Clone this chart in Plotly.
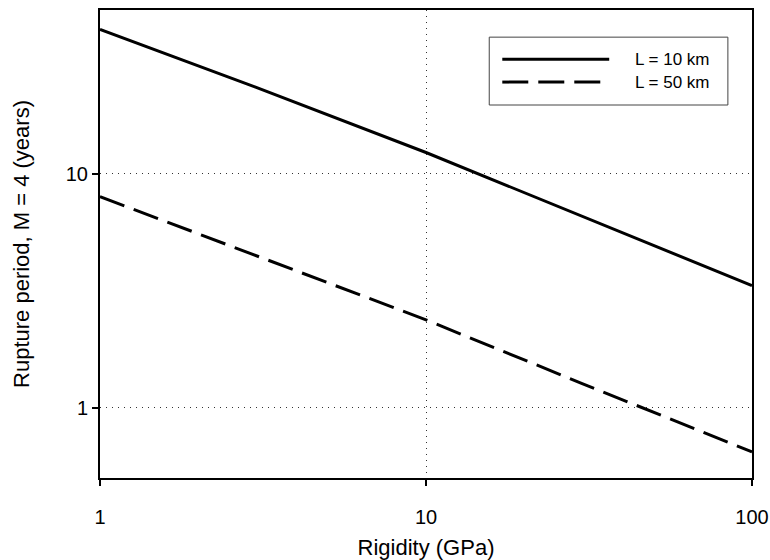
import plotly.graph_objects as go
import numpy as np

# Data
rigidity_gpa = [1, 3, 10, 30, 100]
period_L10 = [41.3, 23.4, 12.3, 6.6, 3.32]
period_L50 = [7.97, 4.47, 2.37, 1.27, 0.646]

series_names = ["L = 10 km", "L = 50 km"]
x_ticks = [1, 10, 100]
x_ticklabels = ["1", "10", "100"]
y_ticks = [1, 10]
y_ticklabels = ["1", "10"]

FONT = "Liberation Sans, Arial, sans-serif"
DASH = "26px,10px"

fig = go.Figure()
fig.add_trace(go.Scatter(x=rigidity_gpa, y=period_L10, mode="lines",
                         line=dict(color="black", width=3), name=series_names[0],
                         showlegend=False, cliponaxis=True))
fig.add_trace(go.Scatter(x=rigidity_gpa, y=period_L50, mode="lines",
                         line=dict(color="black", width=3, dash=DASH),
                         name=series_names[1], showlegend=False, cliponaxis=True))

# Legend box drawn manually (long line samples as in the reference)
fig.add_shape(type="rect", xref="paper", yref="paper", x0=0.597, x1=0.963, y0=0.797, y1=0.942,
              line=dict(color="#444", width=1), fillcolor="white")
sample_y = [0.895, 0.846]
dashes = ["solid", DASH]
for i in range(2):
    fig.add_shape(type="line", xref="paper", yref="paper", x0=0.617, x1=0.781,
                  y0=sample_y[i], y1=sample_y[i],
                  line=dict(color="black", width=3, dash=dashes[i]))
    fig.add_annotation(xref="paper", yref="paper", x=0.818, y=sample_y[i],
                       text=series_names[i], showarrow=False, xanchor="left",
                       yanchor="middle", font=dict(family=FONT, size=17, color="black"))

axis_common = dict(
    type="log", automargin=False,
    showline=True, linecolor="black", linewidth=2, mirror=True,
    ticks="outside", ticklen=6, tickwidth=1.5, tickcolor="black",
    showgrid=True, gridcolor="#333", gridwidth=1, griddash="1px,5px",
    zeroline=False,
    tickfont=dict(family=FONT, size=20, color="black"),
)

fig.update_xaxes(**axis_common, range=[0, 2], tickvals=x_ticks, ticktext=x_ticklabels,
                 ticklabelstandoff=14,
                 title=dict(text="Rigidity (GPa)", font=dict(family=FONT, size=22, color="black"),
                            standoff=13))
fig.update_yaxes(**axis_common, range=[np.log10(0.5), np.log10(50)], tickvals=y_ticks,
                 ticktext=y_ticklabels, ticklabelstandoff=0,
                 title=dict(text="Rupture period, M = 4 (years)",
                            font=dict(family=FONT, size=22, color="black"), standoff=30))

fig.update_layout(width=770, height=560, margin=dict(l=100, r=18, t=10, b=82),
                  plot_bgcolor="white", paper_bgcolor="white",
                  font=dict(family=FONT, color="black"))

fig.write_html("out.html")
